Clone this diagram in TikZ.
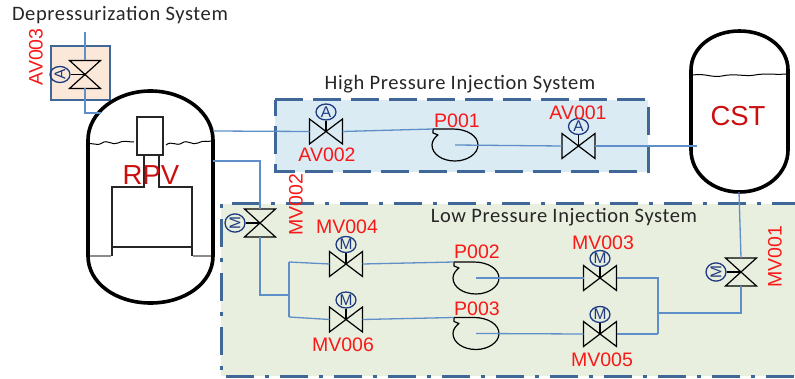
\documentclass[tikz,border=0pt]{standalone}
\usepackage{fontspec}
\setmainfont{Liberation Sans}
\newfontfamily\titlefont[LetterSpace=3]{Carlito}
\usetikzlibrary{shapes.geometric}
\definecolor{pipeblue}{HTML}{5F8FC8}
\definecolor{boxblue}{HTML}{3F6797}
\definecolor{navy}{HTML}{1D3A80}
\definecolor{hpfill}{HTML}{DAEBF3}
\definecolor{lpfill}{HTML}{E9EFDF}
\definecolor{peach}{HTML}{FBE8D8}
\definecolor{tagred}{HTML}{F81818}
\definecolor{bigred}{HTML}{CC0E0E}
\tikzset{
  pipe/.style={draw=pipeblue,line width=1.3pt},
  vesselwall/.style={draw=black,line width=3.6pt},
  inner/.style={draw=black!85,line width=1.1pt},
  valvebody/.style={draw=black,line width=1.2pt,line join=miter},
  actuator/.style={draw=navy,ellipse,line width=1.3pt,minimum width=20pt,minimum height=16pt,inner sep=0pt,text=navy,font=\fontsize{15.5}{15.5}\selectfont},
  tag/.style={text=tagred,inner sep=0pt,font=\fontsize{19.5}{20}\selectfont},
  bigtag/.style={text=bigred,inner sep=0pt,font=\fontsize{27.5}{28}\selectfont},
  systemtitle/.style={text=black!85,inner sep=0pt,font=\titlefont\fontsize{20.5}{21}\selectfont},
  hpborder/.style={draw=boxblue,line width=3pt,dash pattern=on 28pt off 10pt},
  lpborder/.style={draw=boxblue,line width=3pt,dash pattern=on 28pt off 11pt on 4pt off 11pt},
  pumpbody/.style={draw=black,line width=1.2pt,line join=round}
}
% horizontal bowtie, actuator above
\newcommand{\hvalve}[4]{%
  \coordinate (#1) at (#2,#3);
  \coordinate (#1-w) at (#2-16.5,#3);
  \coordinate (#1-e) at (#2+16.5,#3);
  \node[actuator] (#1-act) at (#2,#3-19.5) {#4};
  \draw[valvebody] (#1-act) -- (#1);
  \draw[valvebody] (#2-16.5,#3-12.5) -- (#2+16.5,#3+12.5) -- (#2+16.5,#3-12.5) -- (#2-16.5,#3+12.5) -- cycle;
}
% vertical bowtie, actuator to the left
\newcommand{\vvalve}[4]{%
  \coordinate (#1) at (#2,#3);
  \coordinate (#1-n) at (#2,#3-14);
  \coordinate (#1-s) at (#2,#3+14);
  \node[actuator,rotate=90,minimum width=16pt,minimum height=20pt] (#1-act) at (#2-25,#3) {#4};
  \draw[valvebody] (#1-act) -- (#1);
  \draw[valvebody] (#2-15.5,#3-14) -- (#2+15.5,#3-14) -- (#2-15.5,#3+14) -- (#2+15.5,#3+14) -- cycle;
}
\newcommand{\pump}[3]{%
  \coordinate (#1) at (#2,#3);
  \coordinate (#1-in) at (#2-22,#3-16);
  \draw[pumpbody,shift={(#2,#3)}] (-22,-16) -- (-2,-16) .. controls (12,-16) and (23,-9) .. (23,0) .. controls (23,9) and (12,16) .. (0,16) .. controls (-13,16) and (-23,9) .. (-23,0) .. controls (-23,-4) and (-20,-8) .. (-17,-10) -- (-22,-12) -- cycle;
}
\begin{document}
\begin{tikzpicture}[x=1pt,y=-1pt]
\useasboundingbox (0,0) rectangle (795,379);
\clip (0,0) rectangle (795,379);

% system boxes
\fill[lpfill] (221,204) rectangle (796,376);
\draw[lpborder] (800,204) -- (221,204) -- (221,376) -- (800,376);
\fill[hpfill] (275,100) rectangle (648,172);
\draw[hpborder] (275,100) -- (648,100) -- (648,172) -- (275,172) -- cycle;
\fill[peach] (51,46) rectangle (110,100);
\draw[draw=boxblue,line width=2.4pt] (51,46) rectangle (110,100);

% RPV
\draw[vesselwall] (88,140) .. controls (88,113) and (116,91) .. (150.5,91) .. controls (185,91) and (213,113) .. (213,140) -- (213,256) .. controls (213,283) and (185,303) .. (150.5,303) .. controls (116,303) and (88,283) .. (88,256) -- cycle;
\draw[inner] (137,117) rectangle (163,155);
\draw[inner] (144,155) -- (144,187) -- (112,187) -- (112,256);
\draw[inner] (159,155) -- (159,187) -- (192,187) -- (192,256);
\draw[inner] (112,247) -- (192,247);
\draw[black!45,line width=1.1pt] (90,256) -- (111,256) (193,256) -- (211,256);
\draw[line width=1pt] (86,145) .. controls (92,141) and (96,147) .. (102,143) .. controls (108,139) and (112,146) .. (118,143) .. controls (123,140) and (128,142) .. (134,142);
\draw[line width=1pt] (166,145) .. controls (172,140) and (176,147) .. (182,143) .. controls (188,139) and (192,146) .. (198,143) .. controls (203,140) and (208,142) .. (212,141);
\node[bigtag] (rpvlabel) at (151,175) {RPV};

% CST
\draw[vesselwall] (691,70) .. controls (691,48) and (712,31) .. (739.5,31) .. controls (767,31) and (788,48) .. (788,70) -- (788,150) .. controls (788,173) and (767,192) .. (739.5,192) .. controls (712,192) and (691,173) .. (691,150) -- cycle;
\draw[line width=1pt] (693,75) .. controls (705,73) and (712,78) .. (722,76) .. controls (735,73) and (745,77) .. (755,75) .. controls (765,73) and (775,75) .. (786,74);
\node[bigtag] (cstlabel) at (738,116) {CST};

% attach points
\coordinate (vent) at (85,32);
\coordinate (rpvtopport) at (101,113);
\coordinate (rpvhp) at (213,131);
\coordinate (rpvlp) at (213,161);
\coordinate (cstin) at (697,146);
\coordinate (cstout) at (739,192);
\coordinate (splitA) at (289,262);
\coordinate (splitB) at (289,317);
\coordinate (splitM) at (289,295);
\coordinate (mergeA) at (658,279);
\coordinate (mergeB) at (658,334);
\coordinate (mergeM) at (658,313);

% valves and pumps
\vvalve{AV003}{85}{74.5}{A}
\vvalve{MV002}{260}{223}{M}
\vvalve{MV001}{741}{272}{M}
\hvalve{AV002}{326}{131.5}{A}
\hvalve{AV001}{578.5}{146}{A}
\hvalve{MV004}{346}{264}{M}
\hvalve{MV006}{346}{319.5}{M}
\hvalve{MV003}{600}{278}{M}
\hvalve{MV005}{600}{334}{M}
\pump{P001}{455}{145}
\pump{P002}{476}{278}
\pump{P003}{476}{333.5}

% pipes
\draw[pipe] (vent) -- (AV003-n);
\draw[pipe] (AV003-s) |- (rpvtopport);
\draw[pipe] (rpvhp) -- (AV002-w);
\draw[pipe] (AV002-e) -- (P001-in);
\draw[pipe] (P001) -- (AV001-w);
\draw[pipe] (AV001-e) -- (cstin);
\draw[pipe] (rpvlp) -| (MV002-n);
\draw[pipe] (MV002-s) |- (splitM);
\draw[pipe] (splitA) -- (splitB);
\draw[pipe] (splitA) -- (MV004-w);
\draw[pipe] (splitB) -- (MV006-w);
\draw[pipe] (MV004-e) -- (P002-in);
\draw[pipe] (MV006-e) -- (P003-in);
\draw[pipe] (P002) -- (MV003-w);
\draw[pipe] (P003) -- (MV005-w);
\draw[pipe] (MV003-e) -| (mergeA);
\draw[pipe] (MV005-e) -| (mergeB);
\draw[pipe] (mergeA) -- (mergeB);
\draw[pipe] (mergeM) -| (MV001-s);
\draw[pipe] (cstout) -- (MV001-n);

% labels
\node[systemtitle] (dstitle) at (120,15) {Depressurization System};
\node[systemtitle] (hptitle) at (460,84) {High Pressure Injection System};
\node[systemtitle] (lptitle) at (564,217) {Low Pressure Injection System};
\node[tag,rotate=90] (t1) at (36,57) {AV003};
\node[tag] (t2) at (327,155) {AV002};
\node[tag] (t3) at (578,113) {AV001};
\node[tag] (t4) at (457,121) {P001};
\node[tag,rotate=90] (t5) at (296,205) {MV002};
\node[tag,rotate=90] (t6) at (775,257) {MV001};
\node[tag] (t7) at (347,227) {MV004};
\node[tag] (t8) at (343,345) {MV006};
\node[tag] (t9) at (603,243) {MV003};
\node[tag] (t10) at (602,360) {MV005};
\node[tag] (t11) at (477,252) {P002};
\node[tag] (t12) at (477,309) {P003};
\end{tikzpicture}
\end{document}
